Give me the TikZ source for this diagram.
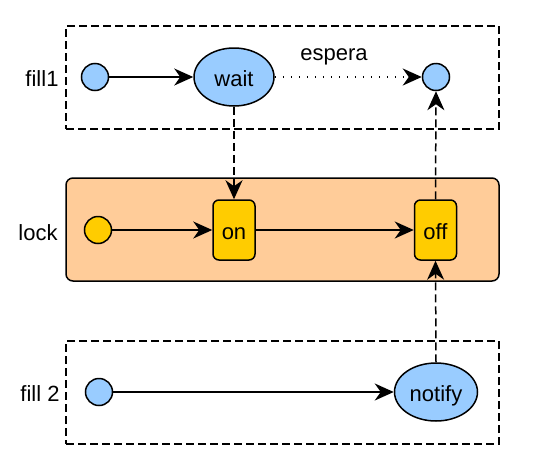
\documentclass[tikz,border=0pt]{standalone}
\usepackage{fontspec}
\setmainfont{Liberation Sans}
\usepackage{xcolor}
\definecolor{stblue}{RGB}{153,204,255}
\definecolor{storange}{RGB}{255,204,153}
\definecolor{styellow}{RGB}{255,204,0}
\usetikzlibrary{arrows.meta,positioning,shapes.geometric}

\begin{document}
\begin{tikzpicture}[x=1pt,y=-1pt,
  font=\fontsize{22}{26}\selectfont,
  sttext/.style={text height=19.5pt,text depth=1.5pt},
  stlane/.style={draw,line width=1.5pt,dash pattern=on 8pt off 4pt,minimum width=433pt,
    minimum height=103pt,inner sep=0pt},
  stdot/.style={circle,draw,line width=1.5pt,minimum size=27pt,inner sep=0pt},
  stell/.style={ellipse,draw,line width=1.5pt,fill=stblue,inner sep=0pt,sttext},
  stbox/.style={draw,line width=1.5pt,rounded corners=6pt,fill=styellow,minimum width=42pt,
    minimum height=60pt,inner sep=0pt,sttext},
  starr/.style={-{Stealth[length=19pt,width=17pt,inset=6pt]},line width=1.5pt},
  stdash/.style={starr,dash pattern=on 8pt off 4pt}
]
  \useasboundingbox (0,0) rectangle (533,472);
  % lanes
  \node[stlane] (lane1) at (282.5,77.5) {};
  \node[stlane,fill=storange,solid,rounded corners=7pt] (lane2) at (282.5,229.5) {};
  \node[stlane] (lane3) at (282.5,392.5) {};
  \node[sttext] (lbl1) at (42,77) {fill1};
  \node[sttext] (lbl2) at (38,231) {lock};
  \node[sttext] (lbl3) at (40,392) {fill 2};
  % fill1
  \node[stdot,fill=stblue] (s1) at (95,77) {};
  \node[stell,minimum width=80pt,minimum height=58pt] (wait) at (234,77) {wait};
  \node[stdot,fill=stblue] (e1) at (436,77) {};
  \node[sttext] (lblEspera) at (334,51) {espera};
  % lock
  \node[stdot,fill=styellow] (s2) at (98,230) {};
  \node[stbox] (on) at (234,230) {on};
  \node[stbox] (off) at (435.5,230) {off};
  % fill 2
  \node[stdot,fill=stblue] (s3) at (99,392) {};
  \node[stell,minimum width=83pt,minimum height=58pt] (notify) at (436,392) {notify};
  % transitions
  \draw[starr] (s1) -- (wait);
  \draw[starr,dash pattern=on 1.5pt off 6.5pt] (wait) -- (e1);
  \draw[starr] (s2) -- (on);
  \draw[starr] (on) -- (off);
  \draw[starr] (s3) -- (notify);
  \draw[stdash] (wait.south) -- (on.north);
  \draw[stdash] (notify.north) -- (off.south);
  \draw[stdash] (off.north) -- (e1.south);
\end{tikzpicture}
\end{document}
